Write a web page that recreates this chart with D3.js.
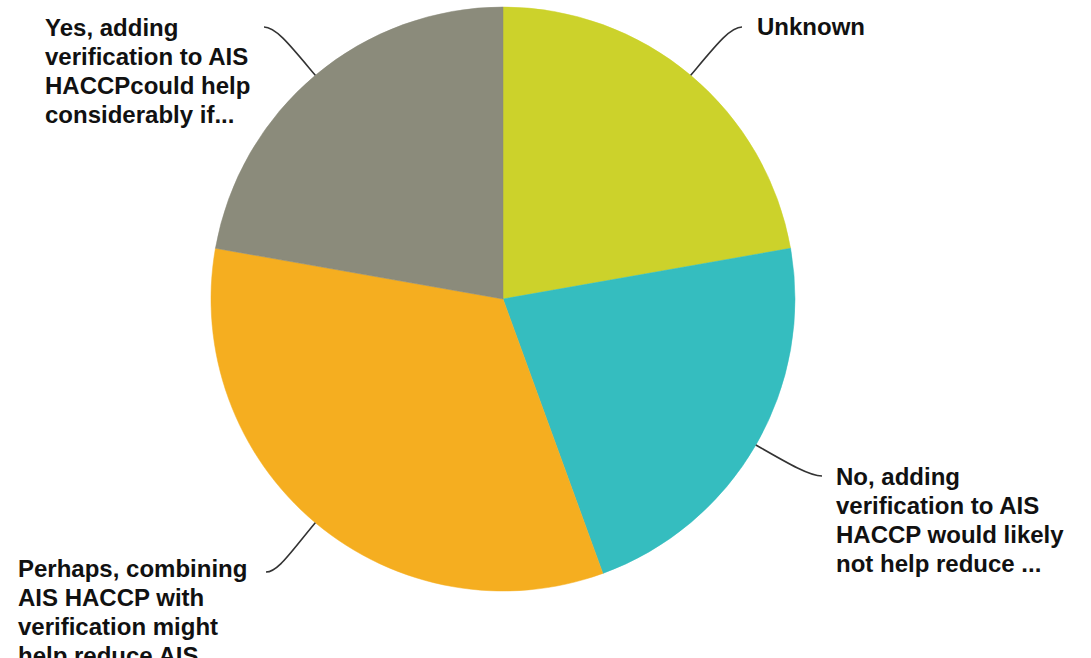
<!DOCTYPE html>
<html>
<head>
<meta charset="utf-8">
<script src="https://cdn.jsdelivr.net/npm/d3@7"></script>
<style>
  html, body { margin: 0; padding: 0; background: #ffffff; overflow: hidden; }
  svg { display: block; }
</style>
</head>
<body>
<svg id="chart" width="1091" height="658"></svg>
<script>
// Survey answers, clockwise from twelve o'clock
const categories = [
  "Unknown",
  "No, adding verification to AIS HACCP would likely not help reduce ...",
  "Perhaps, combining AIS HACCP with verification might help reduce AIS ...",
  "Yes, adding verification to AIS HACCPcould help considerably if..."
];
const counts = [2, 2, 3, 2];
const colors = ["#ccd22b", "#35bdbf", "#f5ae20", "#8b8b7b"];

// Wrapped label lines and label anchor points (left edge, first baseline)
const labelLines = [
  ["Unknown"],
  ["No, adding", "verification to AIS", "HACCP would likely", "not help reduce ..."],
  ["Perhaps, combining", "AIS HACCP with", "verification might", "help reduce AIS ..."],
  ["Yes, adding", "verification to AIS", "HACCPcould help", "considerably if..."]
];
const labelAnchors = [[757, 35], [836, 485], [18, 577], [45, 36]];
// Where each leader line ends, next to its label
const leaderEnds = [[742, 27], [822, 476], [266, 572], [264, 27]];

const width = 1091, height = 658;
const cx = 503, cy = 299, radius = 292;

const svg = d3.select("#chart");
const g = svg.append("g").attr("transform", `translate(${cx},${cy})`);

const pie = d3.pie().sort(null).value(d => d)(counts);
const arc = d3.arc().innerRadius(0).outerRadius(radius);

g.selectAll("path.slice")
  .data(pie)
  .join("path")
  .attr("class", "slice")
  .attr("d", arc)
  .attr("fill", (d, i) => colors[i])
  .attr("stroke", (d, i) => colors[i])
  .attr("stroke-width", 0.5);

// Leader lines: leave the rim radially, then bend into the label
pie.forEach((d, i) => {
  const a = (d.startAngle + d.endAngle) / 2;
  const ux = Math.sin(a), uy = -Math.cos(a);
  const p0 = [cx + ux * radius, cy + uy * radius];
  const end = leaderEnds[i];
  const dist = Math.hypot(end[0] - p0[0], end[1] - p0[1]);
  const side = ux >= 0 ? 1 : -1;
  const c1 = [p0[0] + ux * dist * 0.55, p0[1] + uy * dist * 0.55];
  const c2 = [end[0] - side * 12, end[1]];
  const path = d3.path();
  path.moveTo(p0[0], p0[1]);
  path.bezierCurveTo(c1[0], c1[1], c2[0], c2[1], end[0], end[1]);
  svg.append("path")
    .attr("d", path.toString())
    .attr("fill", "none")
    .attr("stroke", "#333333")
    .attr("stroke-width", 1.6);
});

// Labels
labelLines.forEach((lines, i) => {
  const t = svg.append("text")
    .attr("x", labelAnchors[i][0])
    .attr("y", labelAnchors[i][1])
    .attr("font-family", "Liberation Sans, Arial, sans-serif")
    .attr("font-weight", "bold")
    .attr("font-size", 24)
    .attr("fill", "#111111");
  lines.forEach((line, j) => {
    t.append("tspan")
      .attr("x", labelAnchors[i][0])
      .attr("dy", j === 0 ? 0 : 29)
      .text(line);
  });
});
</script>
</body>
</html>
